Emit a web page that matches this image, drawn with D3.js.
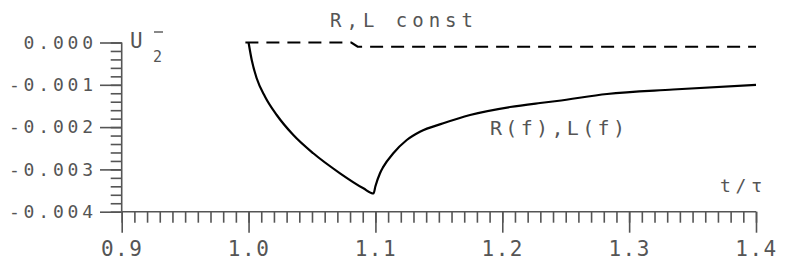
<!DOCTYPE html>
<html><head><meta charset="utf-8">
<script src="https://cdn.jsdelivr.net/npm/d3@7"></script>
<style>
html,body{margin:0;padding:0;background:#fff;}
svg{display:block;}
text{font-family:"DejaVu Sans Mono",monospace;fill:#555;}
</style></head><body>
<svg id="c" width="789" height="264"></svg>
<script>
// ---- data ----
const xDomain = [0.9, 1.4];
const yDomain = [-0.004, 0];
const xMajorTicks = [0.9, 1.0, 1.1, 1.2, 1.3, 1.4];
const xTickLabels = ["0.9", "1.0", "1.1", "1.2", "1.3", "1.4"];
const yMajorTicks = [-0.004, -0.003, -0.002, -0.001, 0];
const yTickLabels = ["-0.004", "-0.003", "-0.002", "-0.001", "0.000"];
// R(f),L(f) solid curve
const solidT = [1.0, 1.0025, 1.0064, 1.013, 1.0222, 1.0353, 1.051, 1.0721, 1.0905, 1.0985,
  1.1000, 1.1036, 1.1062, 1.1141, 1.1247, 1.1351, 1.1535, 1.1746, 1.2061, 1.2298, 1.2431,
  1.2826, 1.3346, 1.4];
const solidV = [0, -0.000414, -0.000846, -0.001281, -0.001714, -0.002187, -0.002619, -0.003092, -0.003447, -0.00357,
  -0.00340, -0.00309, -0.00294, -0.002619, -0.002305, -0.002109, -0.00191, -0.001714, -0.001525, -0.00143, -0.001383,
  -0.001217, -0.001111, -0.001];
// R,L const dashed curve
const dashT = [0.9975, 1.081, 1.086, 1.4];
const dashV = [0, 0, -0.0001, -0.0001];
const labels = { yName: "U", ySub: "2", xName: "t/τ", dashName: "R,L const", solidName: "R(f),L(f)" };

// ---- chart ----
const svg = d3.select("#c");
const x = d3.scaleLinear().domain(xDomain).range([121.7, 756]);
const y = d3.scaleLinear().domain(yDomain).range([211.7, 42.5]);
const axisColor = "#555";

const xMinor = d3.range(90, 141).map(d => d / 100);
const yMinor = d3.range(-20, 1).map(d => d / 5000);

const gyMin = svg.append("g").attr("transform", `translate(${x(0.9)},0)`)
  .call(d3.axisLeft(y).tickValues(yMinor).tickSize(11).tickFormat(""));
const gy = svg.append("g").attr("transform", `translate(${x(0.9)},0)`)
  .call(d3.axisLeft(y).tickValues(yMajorTicks).tickSize(21.7).tickPadding(7)
    .tickFormat((d, i) => yTickLabels[i]));
const gxMin = svg.append("g").attr("transform", `translate(0,${y(-0.004)})`)
  .call(d3.axisBottom(x).tickValues(xMinor).tickSize(11).tickFormat(""));
const gx = svg.append("g").attr("transform", `translate(0,${y(-0.004)})`)
  .call(d3.axisBottom(x).tickValues(xMajorTicks).tickSize(21).tickPadding(8)
    .tickFormat((d, i) => xTickLabels[i]));

[gyMin, gy, gxMin, gx].forEach(g => {
  g.select(".domain").remove();
  g.selectAll(".tick line").attr("stroke", axisColor).attr("stroke-width", 1.6);
});
gy.selectAll("text").attr("font-size", 18).attr("letter-spacing", 3.8).attr("fill", "#555")
  .attr("font-family", "DejaVu Sans Mono").attr("dx", "3.8");
gx.selectAll("text").attr("font-size", 21).attr("letter-spacing", 1.5).attr("fill", "#555")
  .attr("font-family", "DejaVu Sans Mono");

svg.append("line").attr("x1", x(0.9)).attr("x2", x(0.9)).attr("y1", y(0)).attr("y2", y(-0.004))
  .attr("stroke", axisColor).attr("stroke-width", 1.6);
svg.append("line").attr("x1", x(0.9)).attr("x2", x(1.4)).attr("y1", y(-0.004)).attr("y2", y(-0.004))
  .attr("stroke", axisColor).attr("stroke-width", 1.6);

const line = d3.line().x(d => x(d[0])).y(d => y(d[1])).curve(d3.curveMonotoneX);
svg.append("path").datum(dashT.map((t, i) => [t, dashV[i]]))
  .attr("d", d3.line().x(d => x(d[0])).y(d => y(d[1])))
  .attr("fill", "none").attr("stroke", "#000").attr("stroke-width", 2.2)
  .attr("stroke-dasharray", "13,8");
svg.append("path").datum(solidT.map((t, i) => [t, solidV[i]]))
  .attr("d", line)
  .attr("fill", "none").attr("stroke", "#000").attr("stroke-width", 2.2)
  .attr("stroke-linejoin", "round");

svg.append("text").attr("x", 130).attr("y", 48).attr("font-size", 21).text(labels.yName);
svg.append("text").attr("x", 153).attr("y", 62).attr("font-size", 15).text(labels.ySub);
svg.append("line").attr("x1", 154).attr("x2", 163).attr("y1", 32).attr("y2", 32)
  .attr("stroke", "#555").attr("stroke-width", 1.4);
svg.append("text").attr("x", 330).attr("y", 27).attr("font-size", 19)
  .attr("textLength", 143).attr("lengthAdjust", "spacing").text(labels.dashName);
svg.append("text").attr("x", 490).attr("y", 135).attr("font-size", 20)
  .attr("textLength", 135).attr("lengthAdjust", "spacing").text(labels.solidName);
svg.append("text").attr("x", 720).attr("y", 192).attr("font-size", 18)
  .attr("textLength", 42).attr("lengthAdjust", "spacing").text(labels.xName);
</script>
</body></html>
